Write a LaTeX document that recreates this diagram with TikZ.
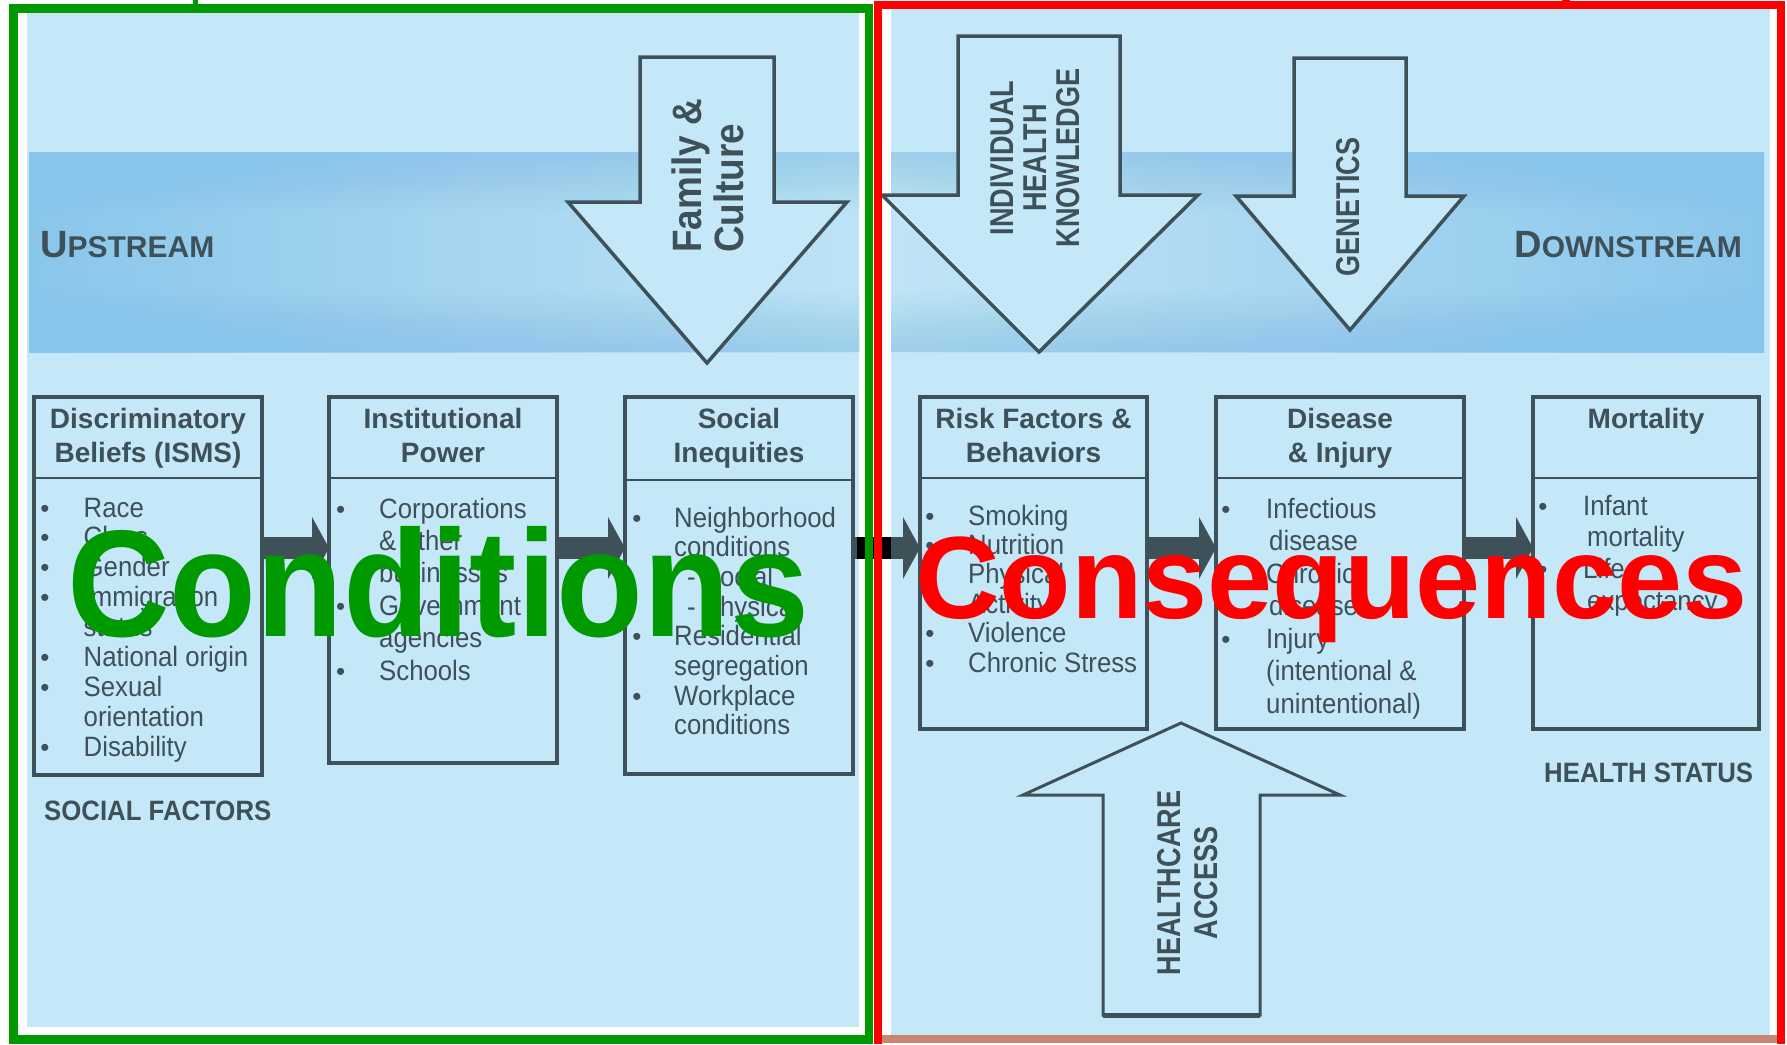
\documentclass[tikz,border=0pt]{standalone}
\usepackage{fontspec}
\setmainfont{Liberation Sans}
\newfontfamily\narrowA[FakeStretch=0.92]{Liberation Sans}
\newfontfamily\narrowB[FakeStretch=0.82]{Liberation Sans}
\newfontfamily\narrowC[FakeStretch=0.9]{Liberation Sans}
\newfontfamily\narrowD[FakeStretch=0.935]{Liberation Sans}
\usetikzlibrary{calc}
\definecolor{bgblue}{RGB}{197,232,249}
\definecolor{bandD}{RGB}{138,198,235}
\definecolor{bandL}{RGB}{192,228,246}
\definecolor{slate}{RGB}{62,80,88}
\definecolor{cgreen}{RGB}{0,153,0}
\definecolor{cred}{RGB}{255,0,0}
\definecolor{salmon}{RGB}{201,133,113}
\tikzset{
  panel/.style={fill=bgblue, draw=none},
  box/.style={rectangle, draw=slate, line width=3.5pt, fill=bgblue, inner sep=0pt, outer sep=0pt},
  divider/.style={draw=slate, line width=2.5pt},
  bigarrow/.style={draw=slate, line width=3.5pt, fill=bgblue, line join=miter},
  hdr/.style={font=\bfseries\fontsize{28}{34}\selectfont, text=slate, inner sep=0pt, anchor=base},
  listitem/.style={font=\narrowA\fontsize{28}{30}\selectfont, text=slate, inner sep=0pt, anchor=base west},
  bul/.style={font=\fontsize{26}{30}\selectfont, text=slate, inner sep=0pt, anchor=base},
  lab/.style={font=\narrowA\bfseries\fontsize{28}{30}\selectfont, text=slate, inner sep=0pt},
  arrtext/.style={font=\narrowB\bfseries\fontsize{33}{33}\selectfont, text=slate, inner sep=0pt, rotate=90, align=center},
  bigword/.style={inner sep=0pt, anchor=base west},
  flowbar/.style={fill=slate},
}
\begin{document}
\begin{tikzpicture}[x=1pt, y=-1pt]
\useasboundingbox (0,0) rectangle (1787,1044);
\fill[white] (0,0) rectangle (1787,1044);
% panels
\fill[panel] (27,13) rectangle (859,1027);
\fill[panel] (891,8) rectangle (1770,1035);
% band
\begin{scope}
  \clip (27,13) rectangle (859,1027) (891,8) rectangle (1770,1035);
  \shade[left color=bandD, right color=bandD, middle color=bandL] (29,152) rectangle (1764,352);
  \foreach \i in {0,...,19} {
    \fill[bandD, fill opacity=0.035] (29,152) rectangle (1764,155+\i*3);
    \fill[bandD, fill opacity=0.035] (29,352) rectangle (1764,349-\i*3);
  }
\end{scope}
% labels in band
\node[anchor=base west, inner sep=0pt, text=slate, font=\bfseries] (up) at (40,257)
  {\fontsize{38}{38}\selectfont U\fontsize{30}{30}\selectfont PSTREAM};
\node[anchor=base east, inner sep=0pt, text=slate, font=\bfseries] (down) at (1742,257)
  {\fontsize{38}{38}\selectfont D\fontsize{30}{30}\selectfont OWNSTREAM};
% big block arrows
\draw[bigarrow] (640,57) -- (774,57) -- (774,202) -- (847,202) -- (707,363) -- (568,202) -- (640,202) -- cycle;
\draw[bigarrow] (958,36) -- (1120,36) -- (1120,195) -- (1198,195) -- (1039,352) -- (882,195) -- (958,195) -- cycle;
\draw[bigarrow] (1294,58) -- (1406,58) -- (1406,196) -- (1464,196) -- (1350,330) -- (1236,196) -- (1294,196) -- cycle;
\draw[bigarrow, line width=3pt] (1103,1015) -- (1103,795) -- (1023,795) -- (1181,723) -- (1340,795) -- (1260,795) -- (1260,1015) -- cycle;
\draw[slate, line width=5pt] (1103,1015) -- (1260,1015);
\node[arrtext, font=\narrowC\bfseries\fontsize{41}{42}\selectfont, align=left, anchor=west] (fam) at (707.5,253) {Family \&\\Culture};
\node[arrtext] (ihk) at (1035,158) {INDIVIDUAL\\HEALTH\\KNOWLEDGE};
\node[arrtext] (gen) at (1348,207) {GENETICS};
\node[arrtext, font=\narrowB\bfseries\fontsize{33}{37}\selectfont] (hca) at (1187.5,883) {HEALTHCARE\\ACCESS};
% boxes
\node[box, minimum width=228, minimum height=378] (b1) at (148,586) {};
\node[box, minimum width=228, minimum height=366] (b2) at (443,580) {};
\node[box, minimum width=228, minimum height=377] (b3) at (739,585.5) {};
\node[box, minimum width=227, minimum height=332] (b4) at (1033.5,563) {};
\node[box, minimum width=248, minimum height=332] (b5) at (1340,563) {};
\node[box, minimum width=226, minimum height=332] (b6) at (1646,563) {};
\foreach \b in {b1,b2,b4,b5,b6} {\draw[divider] (\b.west |- 0,478) -- (\b.east |- 0,478);}
\draw[divider] (b3.west |- 0,480) -- (b3.east |- 0,480);
% flow arrows
\foreach \p/\q in {b1/b2,b2/b3,b3/b4,b4/b5,b5/b6} {
  \path (\p.east |- 0,548) coordinate (\p-fs) (\q.west |- 0,548) coordinate (\p-fe);
  \fill[flowbar] ($(\p-fs)+(0,-11)$) rectangle ($(\p-fe)+(-17,11)$);
  \fill[flowbar] ($(\p-fe)+(-17,-31)$) -- ($(\p-fe)+(-17,31)$) -- (\p-fe) -- cycle;
}
\fill[black] (857,537) rectangle (891,559);
% headers
\node[hdr] (h1a) at (148,428) {Discriminatory};
\node[hdr] (h1b) at (148,462) {Beliefs (ISMS)};
\node[hdr] (h2a) at (443,428) {Institutional};
\node[hdr] (h2b) at (443,462) {Power};
\node[hdr] (h3a) at (739,428) {Social};
\node[hdr] (h3b) at (739,462) {Inequities};
\node[hdr] (h4a) at (1033.5,428) {Risk Factors \&};
\node[hdr] (h4b) at (1033.5,462) {Behaviors};
\node[hdr] (h5a) at (1340,428) {Disease};
\node[hdr] (h5b) at (1340,462) {\& Injury};
\node[hdr] (h6a) at (1646,428) {Mortality};
% lists
\foreach \t/\b/\d [count=\k from 0] in {Race/1/0, Class/1/0, Gender/1/0, Immigration/1/0, status/0/0, National origin/1/0, Sexual/1/0, orientation/0/0, Disability/1/0} {
  \node[listitem] (la-\k) at (83.5+\d, 517+\k*29.9) {\t};
  \ifnum\b=1 \node[bul] (pa-\k) at (45, 517+\k*29.9) {•};\fi
}
\foreach \t/\b/\d [count=\k from 0] in {Corporations/1/0, \& other/0/0, businesses/0/0, Government/1/0, agencies/0/0, Schools/1/0} {
  \node[listitem] (lb-\k) at (379+\d, 518+\k*32.4) {\t};
  \ifnum\b=1 \node[bul] (pb-\k) at (340.6, 518+\k*32.4) {•};\fi
}
\foreach \t/\b/\d [count=\k from 0] in {Neighborhood/1/0, conditions/0/0, - Social/0/13, - Physical/0/13, Residential/1/0, segregation/0/0, Workplace/1/0, conditions/0/0} {
  \node[listitem] (lc-\k) at (674+\d, 527+\k*29.7) {\t};
  \ifnum\b=1 \node[bul] (pc-\k) at (637, 527+\k*29.7) {•};\fi
}
\foreach \t/\b/\d [count=\k from 0] in {Smoking/1/0, Nutrition/1/0, Physical/1/0, Activity/0/0, Violence/1/0, Chronic Stress/1/0} {
  \node[listitem] (ld-\k) at (968+\d, 525+\k*29.4) {\t};
  \ifnum\b=1 \node[bul] (pd-\k) at (930, 525+\k*29.4) {•};\fi
}
\foreach \t/\b/\d [count=\k from 0] in {Infectious/1/0, disease/0/3, Chronic/1/0, disease/0/3, Injury/1/0, {(intentional \&}/0/0, {unintentional)}/0/0} {
  \node[listitem] (le-\k) at (1266+\d, 518+\k*32.5) {\t};
  \ifnum\b=1 \node[bul] (pe-\k) at (1226, 518+\k*32.5) {•};\fi
}
\foreach \t/\b/\d [count=\k from 0] in {Infant/1/0, mortality/0/4, Life/1/0, expectancy/0/4} {
  \node[listitem] (lf-\k) at (1583+\d, 515+\k*31.7) {\t};
  \ifnum\b=1 \node[bul] (pf-\k) at (1543, 515+\k*31.7) {•};\fi
}
% bottom labels
\node[lab, anchor=base west] (sf) at (44,820) {SOCIAL FACTORS};
\node[lab, anchor=base west] (hs) at (1544,782) {HEALTH STATUS};
% frames
\fill[salmon] (882,1035) rectangle (1777,1043);
\draw[cgreen, line width=8.5pt] (13.5,8.5) rectangle (869,1039.5);
\draw[cgreen, line width=5pt] (195,0) -- (195,8);
\draw[cred, line width=8pt] (877.5,1044) -- (877.5,5) -- (1781,5) -- (1781,1044);
\draw[cred, line width=8pt] (1566,0) -- (1566,5);
% overlay words
\node[bigword, text=cgreen, font=\narrowD\bfseries\fontsize{152}{152}\selectfont] (cond) at (67,636) {Conditions};
\node[bigword, text=cred, font=\bfseries\fontsize{117}{117}\selectfont] (cons) at (915,618) {Consequences};
\end{tikzpicture}
\end{document}
